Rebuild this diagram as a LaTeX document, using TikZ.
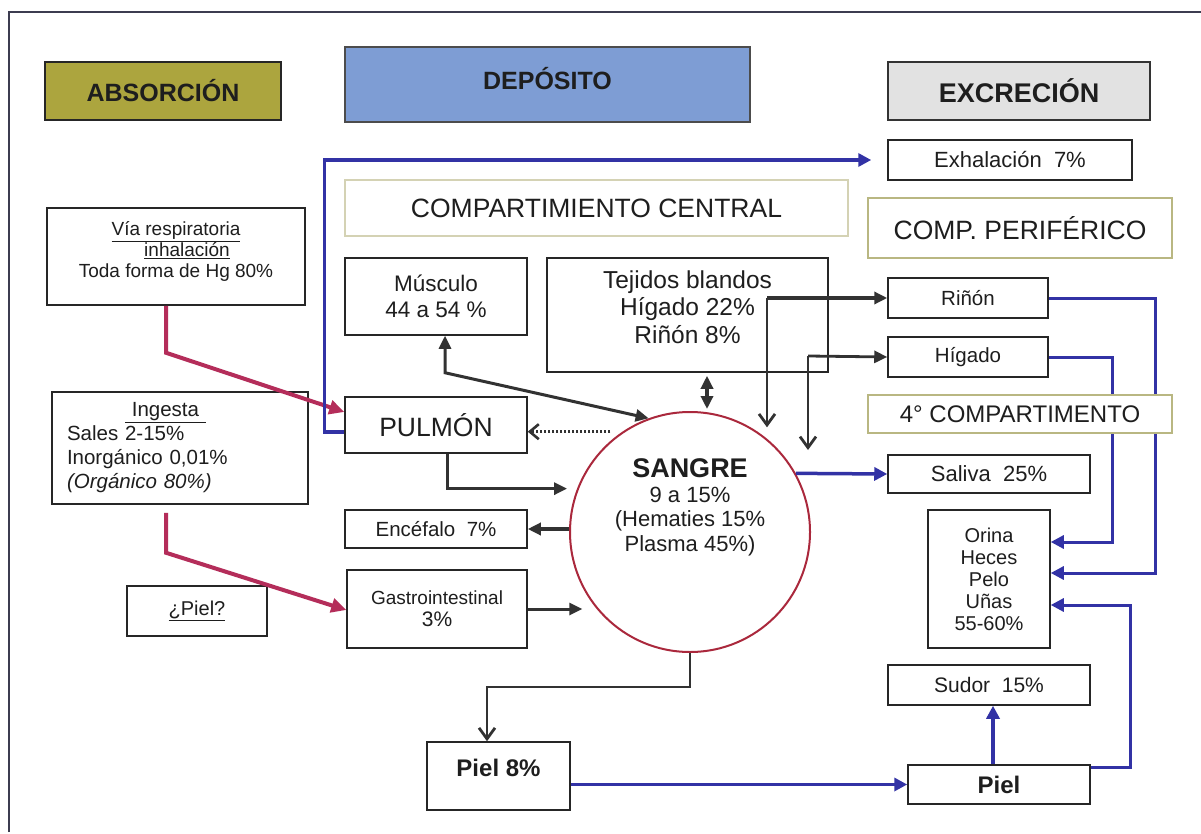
\documentclass[tikz,border=0pt]{standalone}
\usepackage{fontspec}
\setmainfont{Liberation Sans}
\usetikzlibrary{arrows.meta,calc}
\definecolor{olivefill}{RGB}{172,165,62}
\definecolor{depblue}{RGB}{126,157,212}
\definecolor{excgray}{RGB}{226,226,226}
\definecolor{olivedraw}{RGB}{185,183,130}
\definecolor{olivelight}{RGB}{212,210,180}
\definecolor{magarrow}{RGB}{180,45,90}
\definecolor{circred}{RGB}{170,40,60}
\definecolor{linkblue}{RGB}{50,50,165}
\definecolor{darkline}{RGB}{50,50,50}
\definecolor{framec}{RGB}{60,60,80}
\definecolor{txt}{RGB}{30,30,30}
\newcommand{\fsz}[2]{\fontsize{#1}{#2}\selectfont}
\newcommand{\upby}[1]{\rule[-#1]{0pt}{0pt}}
\begin{document}
\begin{tikzpicture}[x=1pt,y=-1pt,
  box/.style={draw=black!85, line width=1.5pt, fill=white, rectangle, inner sep=0pt, align=center, text=txt},
  hdr/.style={box, draw=olivedraw, line width=1.8pt},
  mag/.style={draw=magarrow, line width=4pt, -{Triangle[length=15pt,width=14pt]}},
  dk/.style={draw=darkline, line width=3pt, -{Triangle[length=13pt,width=12pt]}},
  dkd/.style={draw=darkline, line width=3pt, {Triangle[length=13pt,width=12pt]}-{Triangle[length=13pt,width=12pt]}},
  dkv/.style={draw=darkline, line width=2.8pt, -{Straight Barb[length=11pt,width=16pt]}},
  bl/.style={draw=linkblue, line width=3.5pt, -{Triangle[length=13pt,width=13pt]}},
  blt/.style={draw=linkblue, line width=3pt, -{Triangle[length=13pt,width=13pt]}},
  dotarr/.style={draw=darkline, line width=2.6pt, dash pattern=on 2.5pt off 1.5pt, -{Straight Barb[length=9pt,width=15pt]}}
]
\useasboundingbox (0,0) rectangle (1201,834);
\fill[white] (0,0) rectangle (1201,834);
\draw[framec, line width=2pt] (9,832) -- (9,12) -- (1201,12);

% headers
\node[box, fill=olivefill, minimum width=236pt, minimum height=58pt, font=\bfseries\fsz{25}{29}] (absor) at (163,91) {ABSORCIÓN};
\node[box, fill=depblue, draw=black!70, minimum width=405pt, minimum height=75pt, font=\bfseries\fsz{25}{29}] (depos) at (547.5,84.5) {DEPÓSITO\upby{13pt}};
\node[box, fill=excgray, draw=black!80, line width=2pt, minimum width=262pt, minimum height=58pt, font=\bfseries\fsz{27}{31}] (excr) at (1019,91) {EXCRECIÓN};

\node[box, minimum width=244pt, minimum height=40pt, font=\fsz{22}{26}] (exh) at (1010,160) {Exhalación\ \ 7\%};
\node[hdr, draw=olivelight, minimum width=503pt, minimum height=56pt, font=\fsz{26.5}{30}] (ccent) at (596.5,208) {COMPARTIMIENTO CENTRAL};
\node[hdr, minimum width=304pt, minimum height=60pt, font=\fsz{26.5}{30}] (cperif) at (1020,228) {COMP. PERIFÉRICO};

% absorption
\node[box, minimum width=258pt, minimum height=97pt, font=\fsz{19}{21}] (via) at (176,256.5) {\underline{Vía respiratoria}\\\hspace*{22pt}\underline{inhalación}\\Toda forma de Hg 80\%\upby{14pt}};
\node[box, minimum width=256pt, minimum height=112pt, text width=226pt, align=left, font=\fsz{20.5}{24}] (ingesta) at (180,448) {\hspace*{58pt}\underline{\ Ingesta\ }\\Sales 2-15\%\\Inorgánico 0,01\%\\\textit{(Orgánico 80\%)}};
\node[box, minimum width=140pt, minimum height=50pt, font=\fsz{20}{24}] (pielq) at (197,611) {\underline{¿Piel?}};

% central compartment
\node[box, minimum width=182pt, minimum height=77pt, font=\fsz{22.5}{26}] (musculo) at (436,296.5) {Músculo\\44 a 54 \%};
\node[box, minimum width=281pt, minimum height=114pt, font=\fsz{24.5}{27.5}] (tejidos) at (687.5,315) {Tejidos blandos\\Hígado 22\%\\Riñón 8\%\upby{16pt}};
\node[box, minimum width=182pt, minimum height=56pt, font=\fsz{26.5}{30}] (pulmon) at (436,425) {PULMÓN};
\node[circle, draw=circred, line width=2pt, fill=white, minimum size=240pt, inner sep=0pt, align=center, text=txt, font=\fsz{22}{24.5}] (sangre) at (690,532) {{\bfseries\fsz{27}{30}SANGRE}\\9 a 15\%\\(Hematies 15\%\\Plasma 45\%)\upby{54pt}};
\node[box, minimum width=182pt, minimum height=38pt, font=\fsz{20.5}{24}] (encef) at (436,529) {Encéfalo\ \ 7\%};
\node[box, minimum width=180pt, minimum height=78pt, font=\fsz{19}{22}] (gastro) at (437,609) {Gastrointestinal\\{\fsz{21}{22}3\%}};
\node[box, minimum width=143pt, minimum height=68pt, font=\bfseries\fsz{24}{28}] (piel8) at (498.5,776) {Piel 8\%\upby{16pt}};

% peripheral
\node[box, minimum width=160pt, minimum height=40pt, font=\fsz{20.5}{24}] (rinon) at (968,298) {Riñón};
\node[box, minimum width=160pt, minimum height=40pt, font=\fsz{20.5}{24}] (higado) at (968,357) {Hígado};
\node[box, minimum width=202pt, minimum height=38pt, font=\fsz{22}{26}] (saliva) at (989,474) {Saliva\ \ 25\%};
\node[box, minimum width=122pt, minimum height=138pt, font=\fsz{20}{22}] (orina) at (989,579) {Orina\\Heces\\Pelo\\Uñas\\55-60\%};
\node[box, minimum width=202pt, minimum height=40pt, font=\fsz{21}{25}] (sudor) at (989,685) {Sudor\ \ 15\%};
\node[box, minimum width=182pt, minimum height=39pt, font=\bfseries\fsz{24}{28}] (piel) at (999,784.5) {Piel};

% blue excretion routes behind the 4th compartment
\draw[blt] (rinon.east) -- ++(107,0) |- ([yshift=6pt]orina.east);
\draw[blt] (higado.east) -- ++(64,0) |- ([yshift=37pt]orina.east);
\draw[blt] ([yshift=-3pt]piel.north east) -- ++(40,0) |- ([yshift=-26pt]orina.east);
\node[hdr, minimum width=304pt, minimum height=38pt, font=\fsz{24}{28}] (cuarto) at (1020,414) {4° COMPARTIMENTO};

% coordinates of free ends
\coordinate (t1) at (767,298);
\coordinate (t2) at (808,356);
\coordinate (t2e) at (808,450);

% magenta absorption arrows
\draw[mag] ([xshift=-10pt]via.south) -- ++(0,47) -- ([yshift=13pt]pulmon.west);
\draw[mag] ([xshift=-14pt,yshift=-8pt]ingesta.south) -- ++(0,40) -- ([yshift=-1pt]gastro.west);

% exhalation
\draw[bl] ([yshift=-7pt]pulmon.west) -- ++(-20,0) |- ([xshift=-16pt]exh.west);

% dark connectors
\draw[dkd] ([xshift=9pt]musculo.south) -- ++(0,37) -- (sangre.110);
\draw[dkd, line width=3.5pt] ([xshift=19.5pt,yshift=-3pt]tejidos.south) -- ([xshift=17pt,yshift=2pt]sangre.north);
\draw[dotarr, shorten <=12pt] (sangre.124.5) -- (pulmon.east |- sangre.124.5);
\draw[dk, shorten >=10pt] ([xshift=11pt]pulmon.south) |- (sangre.159.5);
\draw[dk, line width=4pt] (encef.east -| sangre.west) -- (encef.east);
\draw[dk, shorten >=15pt] (gastro.east) -- (gastro.east -| sangre.220);
\draw[dkv] (sangre.south) -- ++(0,34) -| ([xshift=-11.5pt]piel8.north);
\draw[dk, line width=3.5pt] (t1) -- (rinon.west);
\draw[dkv, shorten >=12pt] (t1) -- (t1 |- sangre.50);
\draw[dk, line width=2.8pt] (t2) -- (higado.west);
\draw[dkv] (t2) -- (t2e);

% blue connectors
\draw[bl] (sangre.29.4) -- (saliva.west);
\draw[bl] (piel.west -| piel8.east) -- (piel.west);
\draw[bl, line width=4.5pt] ([xshift=-6pt]piel.north) -- ([xshift=4pt]sudor.south);
\end{tikzpicture}
\end{document}
